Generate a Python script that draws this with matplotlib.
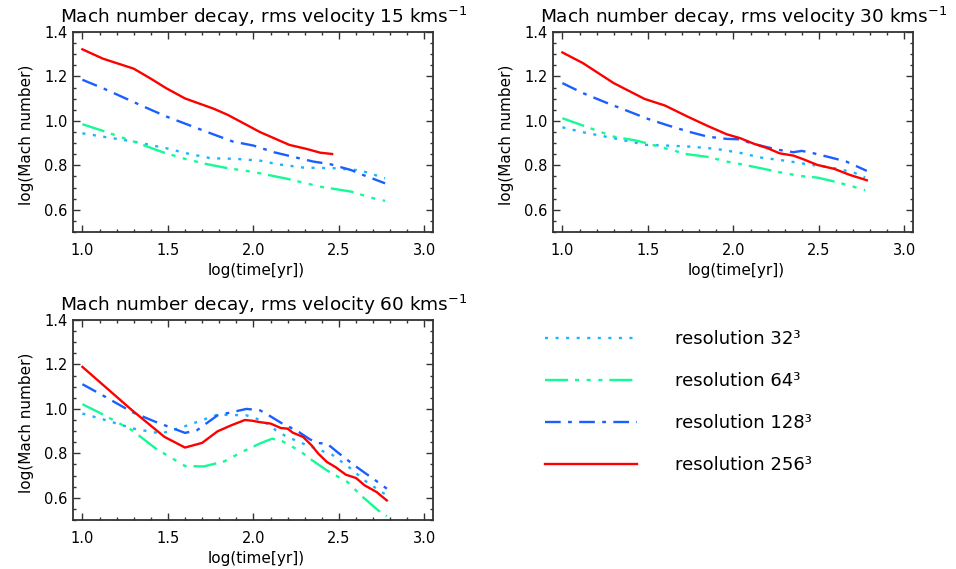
"""Mach number decay for three rms velocities at four grid resolutions."""
import matplotlib

matplotlib.use("Agg")
import matplotlib.pyplot as plt
from matplotlib.ticker import MultipleLocator, FormatStrFormatter

plt.rcParams["font.family"] = ["DejaVu Sans"]
plt.rcParams["lines.scale_dashes"] = False

# ---- data (log time [yr], log Mach number) ----
t15_32 = [1.0, 1.12, 1.30, 1.49, 1.61, 1.75, 1.90, 2.04, 2.14, 2.29, 2.47, 2.60, 2.66, 2.77]
m15_32 = [0.944, 0.929, 0.907, 0.877, 0.854, 0.832, 0.829, 0.821, 0.805, 0.790, 0.787, 0.779, 0.769, 0.742]
t15_64 = [1.0, 1.12, 1.30, 1.47, 1.60, 1.73, 1.85, 1.96, 2.04, 2.20, 2.39, 2.57, 2.70, 2.77]
m15_64 = [0.985, 0.955, 0.907, 0.859, 0.829, 0.805, 0.787, 0.775, 0.764, 0.739, 0.704, 0.682, 0.652, 0.640]
t15_128 = [1.0, 1.12, 1.25, 1.38, 1.49, 1.62, 1.75, 1.88, 2.0, 2.12, 2.25, 2.35, 2.45, 2.57, 2.64, 2.77]
m15_128 = [1.185, 1.147, 1.102, 1.057, 1.020, 0.982, 0.944, 0.907, 0.889, 0.859, 0.835, 0.817, 0.805, 0.779, 0.757, 0.719]
t15_256 = [1.0, 1.12, 1.30, 1.40, 1.49, 1.60, 1.77, 1.85, 1.96, 2.04, 2.10, 2.21, 2.31, 2.39, 2.46]
m15_256 = [1.322, 1.280, 1.235, 1.190, 1.147, 1.101, 1.054, 1.027, 0.982, 0.949, 0.929, 0.892, 0.874, 0.857, 0.851]

t30_32 = [1.0, 1.12, 1.30, 1.49, 1.61, 1.75, 1.90, 2.04, 2.16, 2.31, 2.43, 2.57, 2.70, 2.77]
m30_32 = [0.971, 0.949, 0.922, 0.892, 0.889, 0.884, 0.874, 0.856, 0.835, 0.820, 0.805, 0.790, 0.769, 0.745]
t30_64 = [1.0, 1.12, 1.30, 1.44, 1.60, 1.73, 1.85, 1.96, 2.04, 2.16, 2.27, 2.39, 2.49, 2.59, 2.68, 2.77]
m30_64 = [1.012, 0.979, 0.929, 0.910, 0.877, 0.850, 0.838, 0.817, 0.806, 0.787, 0.769, 0.752, 0.745, 0.727, 0.709, 0.688]
t30_128 = [1.0, 1.12, 1.25, 1.38, 1.50, 1.62, 1.75, 1.85, 1.96, 2.04, 2.10, 2.20, 2.27, 2.35, 2.40, 2.47, 2.57, 2.66, 2.78]
m30_128 = [1.170, 1.125, 1.084, 1.045, 1.009, 0.979, 0.949, 0.929, 0.919, 0.917, 0.900, 0.881, 0.869, 0.859, 0.865, 0.854, 0.835, 0.817, 0.775]
t30_256 = [1.0, 1.12, 1.30, 1.48, 1.60, 1.73, 1.85, 1.96, 2.04, 2.12, 2.20, 2.27, 2.35, 2.41, 2.49, 2.59, 2.68, 2.78]
m30_256 = [1.308, 1.260, 1.170, 1.099, 1.069, 1.020, 0.977, 0.940, 0.922, 0.897, 0.877, 0.854, 0.844, 0.827, 0.802, 0.784, 0.757, 0.733]

t60_32 = [1.0, 1.12, 1.30, 1.46, 1.60, 1.79, 1.96, 2.04, 2.10, 2.13, 2.19, 2.29, 2.39, 2.46, 2.57, 2.65, 2.72, 2.78]
m60_32 = [0.979, 0.953, 0.911, 0.889, 0.922, 0.974, 0.971, 0.950, 0.925, 0.904, 0.877, 0.844, 0.814, 0.794, 0.731, 0.678, 0.641, 0.611]
t60_64 = [1.0, 1.11, 1.29, 1.43, 1.60, 1.71, 1.83, 1.94, 2.04, 2.11, 2.17, 2.22, 2.28, 2.33, 2.43, 2.55, 2.64, 2.73, 2.78]
m60_64 = [1.021, 0.979, 0.904, 0.821, 0.743, 0.741, 0.764, 0.809, 0.845, 0.866, 0.854, 0.833, 0.806, 0.776, 0.723, 0.671, 0.603, 0.543, 0.517]
t60_128 = [1.0, 1.10, 1.29, 1.42, 1.60, 1.67, 1.79, 1.96, 2.04, 2.09, 2.16, 2.26, 2.33, 2.38, 2.43, 2.49, 2.54, 2.59, 2.65, 2.70, 2.78]
m60_128 = [1.111, 1.069, 0.986, 0.944, 0.892, 0.904, 0.971, 1.000, 0.993, 0.971, 0.938, 0.899, 0.863, 0.846, 0.844, 0.806, 0.776, 0.746, 0.713, 0.686, 0.641]
t60_256 = [1.0, 1.29, 1.48, 1.60, 1.70, 1.79, 1.87, 1.95, 1.99, 2.04, 2.10, 2.16, 2.20, 2.23, 2.29, 2.34, 2.38, 2.43, 2.48, 2.54, 2.60, 2.65, 2.72, 2.78]
m60_256 = [1.189, 0.994, 0.874, 0.826, 0.847, 0.899, 0.926, 0.950, 0.947, 0.940, 0.934, 0.914, 0.911, 0.893, 0.874, 0.836, 0.798, 0.761, 0.738, 0.704, 0.689, 0.656, 0.626, 0.588]

velocities = ["15", "30", "60"]
resolutions = ["32", "64", "128", "256"]

# line styles per resolution (dash patterns in points)
STYLE = {
    "32": dict(color="#1cb2ff", dashes=[2.2, 5.4]),
    "64": dict(color="#14fa96", dashes=[16.6, 5.0, 2.9, 5.5, 2.9, 5.5, 2.9, 5.0]),
    "128": dict(color="#1a5fff", dashes=[11.3, 5.3, 2.7, 5.3]),
    "256": dict(color="#ff0000", dashes=None),
}

# panel boxes in pixels (left, top) of a 956x569 canvas, 360x200 each
W, H = 956, 569
PANELS = {"15": (73, 32), "30": (553, 32), "60": (73, 320)}


def style_axes(ax):
    ax.set_xlim(0.945, 3.05)
    ax.set_ylim(0.5, 1.4)
    ax.xaxis.set_major_locator(MultipleLocator(0.5))
    ax.xaxis.set_minor_locator(MultipleLocator(0.1))
    ax.yaxis.set_major_locator(MultipleLocator(0.2))
    ax.yaxis.set_minor_locator(MultipleLocator(0.05))
    ax.xaxis.set_major_formatter(FormatStrFormatter("%.1f"))
    ax.yaxis.set_major_formatter(FormatStrFormatter("%.1f"))
    ax.tick_params(which="both", direction="in", top=True, right=True,
                   color="#333333", labelsize=10.5)
    ax.tick_params(which="major", length=4.8, width=1.0)
    ax.tick_params(which="minor", length=2.4, width=1.0)
    ax.tick_params(axis="x", pad=8)
    ax.tick_params(axis="y", pad=4)
    for s in ax.spines.values():
        s.set_linewidth(1.3)
        s.set_color("#333333")
    ax.set_xlabel("log(time[yr])", fontsize=11)
    ax.set_ylabel("log(Mach number)", fontsize=11)
    ax.xaxis.set_label_coords(0.51, -0.155)
    ax.yaxis.set_label_coords(-0.108, 0.485)


def main():
    data = {
        "15": [(t15_32, m15_32), (t15_64, m15_64), (t15_128, m15_128), (t15_256, m15_256)],
        "30": [(t30_32, m30_32), (t30_64, m30_64), (t30_128, m30_128), (t30_256, m30_256)],
        "60": [(t60_32, m60_32), (t60_64, m60_64), (t60_128, m60_128), (t60_256, m60_256)],
    }
    fig = plt.figure(figsize=(W / 100, H / 100), dpi=100)
    handles = []
    for v in velocities:
        left, top = PANELS[v]
        ax = fig.add_axes([left / W, 1 - (top + 200) / H, 360 / W, 200 / H])
        for res, (t, m) in zip(resolutions, data[v]):
            st = STYLE[res]
            (ln,) = ax.plot(t, m, color=st["color"], lw=1.7,
                            label=f"resolution {res}³")
            if st["dashes"]:
                ln.set_dashes(st["dashes"])
            if v == "15":
                handles.append(ln)
        style_axes(ax)
        ax.text(0.529, 1.045, f"Mach number decay, rms velocity {v} kms$^{{-1}}$",
                transform=ax.transAxes, ha="center", va="baseline", fontsize=13.3)

    fig.legend(handles=handles, loc="upper left",
               bbox_to_anchor=(545 / W, 1 - 330 / H), frameon=False,
               fontsize=13, handlelength=5.1, handletextpad=2.1,
               labelspacing=1.33, borderpad=0, borderaxespad=0)
    fig.savefig("out.png", dpi=100)


if __name__ == "__main__":
    main()
